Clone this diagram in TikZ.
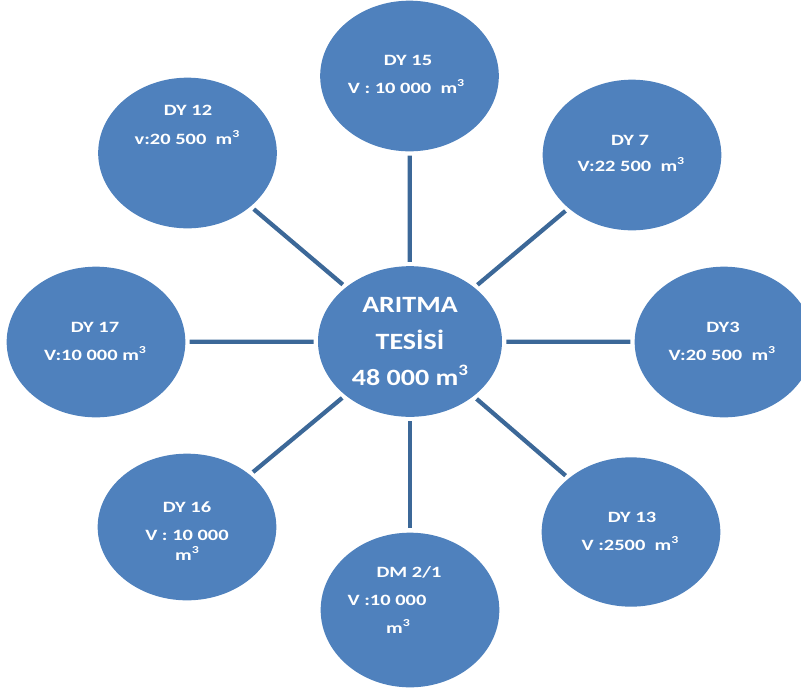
\documentclass[tikz,border=0pt]{standalone}
\usepackage{fontspec}
\setmainfont{Carlito}
\usetikzlibrary{shapes.geometric}
\definecolor{tankfill}{HTML}{4F81BD}
\definecolor{conncol}{RGB}{60,104,152}
\newcommand{\cubm}{m\raisebox{0.42em}{\scalebox{0.68}{3}}}
\begin{document}
\begin{tikzpicture}[x=0.75pt,y=-0.75pt,
  tank/.style={ellipse, fill=tankfill, draw=none, inner sep=0pt,
    minimum width=134pt, minimum height=113pt},
  conn/.style={draw=conncol, line width=3.2pt, shorten <=3pt, shorten >=3pt},
  txt/.style={text=white, font=\bfseries\fontsize{11.8}{14}\selectfont,
    anchor=base, inner sep=0pt, xscale=1.3},
  bigtxt/.style={text=white, font=\bfseries\fontsize{17.5}{21}\selectfont,
    anchor=base, inner sep=0pt, xscale=1.2}]
\useasboundingbox (0,0) rectangle (801,690);
% tanks
\node[tank, minimum width=138pt, minimum height=113pt] (c) at (410,341.5) {};
\node[tank] (dy15) at (409.5,76) {};
\node[tank] (dy12) at (187.5,153) {};
\node[tank] (dy7) at (632,155) {};
\node[tank] (dy17) at (96,342) {};
\node[tank] (dy3) at (724,342) {};
\node[tank, minimum height=110pt] (dy16) at (187,527) {};
\node[tank, minimum height=112pt] (dy13) at (631,532) {};
\node[tank, minimum height=116pt] (dm) at (410,610) {};
% connectors
\foreach \n in {dy15,dy12,dy7,dy17,dy3,dy16,dy13,dm}
  \draw[conn] (c) -- (\n);
% texts
\node[bigtxt] (c1) at (410,312.5) {ARITMA};
\node[bigtxt] (c2) at (410,349.5) {TESİSİ};
\node[bigtxt] (c3) at (410,385.5) {48 000 \cubm};
\node[txt] (t15a) at (408,65) {DY 15};
\node[txt] (t15b) at (406,93) {V : 10 000 \ \cubm};
\node[txt] (t12a) at (188,115) {DY 12};
\node[txt] (t12b) at (187,144) {v:20 500 \ \cubm};
\node[txt] (t7a) at (630,145) {DY 7};
\node[txt] (t7b) at (631,171) {V:22 500 \ \cubm};
\node[txt] (t17a) at (95,332) {DY 17};
\node[txt] (t17b) at (95,360) {V:10 000 \cubm};
\node[txt] (t3a) at (723,332) {DY3};
\node[txt] (t3b) at (722,360) {V:20 500 \ \cubm};
\node[txt] (t16a) at (187,512) {DY 16};
\node[txt] (t16b) at (187,540) {V : 10 000};
\node[txt] (t16c) at (187,560) {\cubm};
\node[txt] (t13a) at (632,522) {DY 13};
\node[txt] (t13b) at (630,550) {V :2500 \ \cubm};
\node[txt] (tdma) at (409,577) {DM 2/1};
\node[txt] (tdmb) at (387,605) {V :10 000};
\node[txt] (tdmc) at (398,633) {\cubm};
\end{tikzpicture}
\end{document}
